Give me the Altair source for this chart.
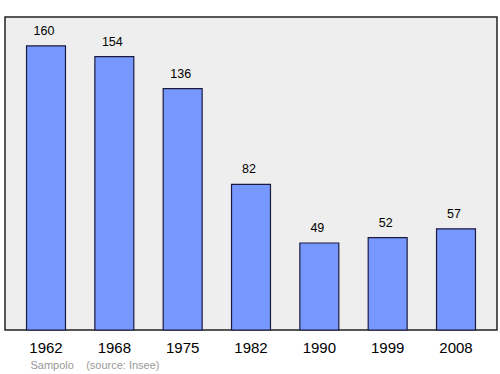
import altair as alt
import pandas as pd

years = ["1962", "1968", "1975", "1982", "1990", "1999", "2008"]
population = [160, 154, 136, 82, 49, 52, 57]

df = pd.DataFrame({"year": years, "pop": population})

x = alt.X("year:N", sort=years,
          scale=alt.Scale(paddingInner=0.43, paddingOuter=0.315),
          axis=alt.Axis(title="Sampolo\u00a0\u00a0\u00a0\u00a0(source: Insee)", labelAngle=0, domain=False, ticks=False,
                        labelPadding=10, labelFontSize=15, labelFont="Liberation Sans",
                        labelColor="#000000",
                        titleFont="Liberation Sans", titleFontSize=11, titleFontWeight="normal",
                        titleColor="#999999", titleAlign="left", titleAnchor="start",
                        titleX=25, titleY=35, titleBaseline="middle"))
y = alt.Y("pop:Q", scale=alt.Scale(domain=[0, 176.3], nice=False, zero=True), axis=None)

bars = alt.Chart(df).mark_bar(color="#7799ff", stroke="#1a1a40", strokeWidth=1.2).encode(x=x, y=y)
labels = alt.Chart(df).mark_text(baseline="bottom", dy=-8, dx=-2, fontSize=12.5,
                                 font="Liberation Sans", color="#000000").encode(
    x=x, y=y, text="pop:Q")

chart = (bars + labels).properties(
    width=492, height=313,
    autosize=alt.AutoSizeParams(type="none"),
    padding={"left": 5, "top": 17, "right": 3, "bottom": 44},
    background="white",
).configure_view(fill="#eeeeee", stroke="#222222", strokeWidth=1.5)

chart.save("out.html", embed_options={"renderer": "svg", "actions": False})
